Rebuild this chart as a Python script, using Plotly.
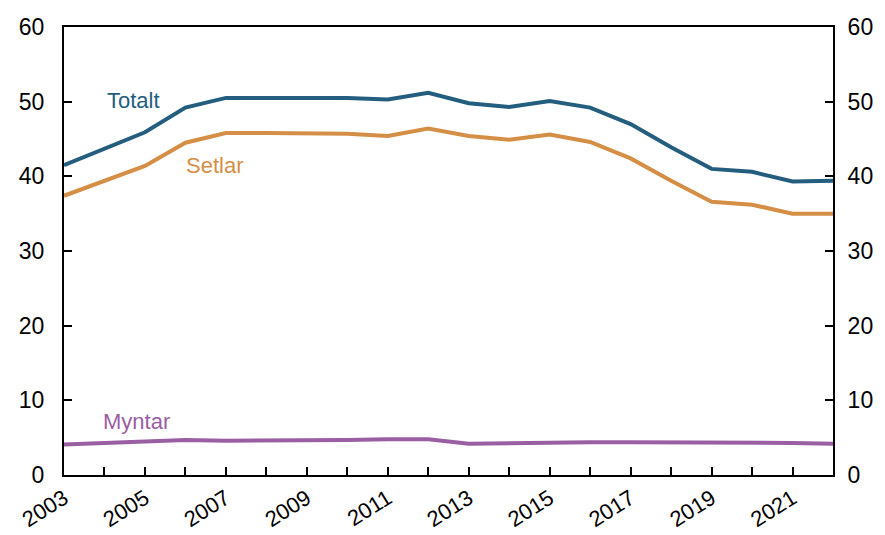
import plotly.graph_objects as go

C_TOT = '#245e7e'
C_SET = '#d58e45'
C_MYN = '#9a5ea3'
C_TXT = '#000000'

years = list(range(2003, 2023))
totalt = [41.5, 43.7, 45.9, 49.2, 50.5, 50.5, 50.5, 50.5, 50.3, 51.2,
          49.8, 49.3, 50.1, 49.2, 47.0, 43.9, 41.0, 40.6, 39.3, 39.4]
setlar = [37.4, 39.4, 41.4, 44.5, 45.8, 45.8, 45.7, 45.7, 45.4, 46.4,
          45.4, 44.9, 45.6, 44.6, 42.4, 39.4, 36.6, 36.2, 35.0, 35.0]
myntar = [4.1, 4.3, 4.5, 4.7, 4.6, 4.6, 4.6, 4.7, 4.8, 4.8,
          4.2, 4.3, 4.4, 4.4, 4.4, 4.4, 4.3, 4.3, 4.3, 4.2]
year_labels = [str(y) if (y - 2003) % 2 == 0 else '' for y in years]
y_ticks = [0, 10, 20, 30, 40, 50, 60]

fig = go.Figure()
for name, vals, color in [('Totalt', totalt, C_TOT), ('Setlar', setlar, C_SET),
                          ('Myntar', myntar, C_MYN)]:
    fig.add_trace(go.Scatter(x=years, y=vals, mode='lines', name=name,
                             line=dict(color=color, width=4)))
# dummy trace so the right axis is drawn
fig.add_trace(go.Scatter(x=years, y=totalt, yaxis='y2', mode='lines',
                         line=dict(width=0), hoverinfo='skip', showlegend=False,
                         opacity=0))

fig.add_annotation(x=2005.42, y=50.1, text='Totalt', showarrow=False,
                   xanchor='right', font=dict(color=C_TOT, size=22))
fig.add_annotation(x=2007.47, y=41.4, text='Setlar', showarrow=False,
                   xanchor='right', font=dict(color=C_SET, size=22))
fig.add_annotation(x=2005.67, y=7.2, text='Myntar', showarrow=False,
                   xanchor='right', font=dict(color=C_MYN, size=22))

_yax = dict(range=[0, 60], tickvals=y_ticks, showgrid=False, zeroline=False,
            showline=True, linecolor='black', linewidth=2, automargin=False,
            ticks='inside', ticklen=8, tickwidth=1.5, tickcolor='black',
            tickfont=dict(size=23, color=C_TXT))

# the page body adds an 8px offset, so the figure is shrunk to stay in view
fig.update_layout(
    paper_bgcolor='white', plot_bgcolor='white',
    font=dict(family='Liberation Sans, Arial, sans-serif', color=C_TXT),
    width=877, height=527,
    margin=dict(l=56, r=52, t=19, b=60),
    showlegend=False,
    xaxis=dict(range=[2003, 2022], tickvals=years, ticktext=year_labels,
               tickangle=-32, showgrid=False, zeroline=False, automargin=False,
               showline=True, mirror=True, linecolor='black', linewidth=2,
               ticks='inside', ticklen=8, tickwidth=1.5, tickcolor='black',
               tickfont=dict(size=22, color=C_TXT)),
    yaxis=dict(**_yax, side='left', ticklabelstandoff=13),
    yaxis2=dict(**_yax, side='right', overlaying='y', ticklabelstandoff=8),
)

fig.write_html('out.html')
